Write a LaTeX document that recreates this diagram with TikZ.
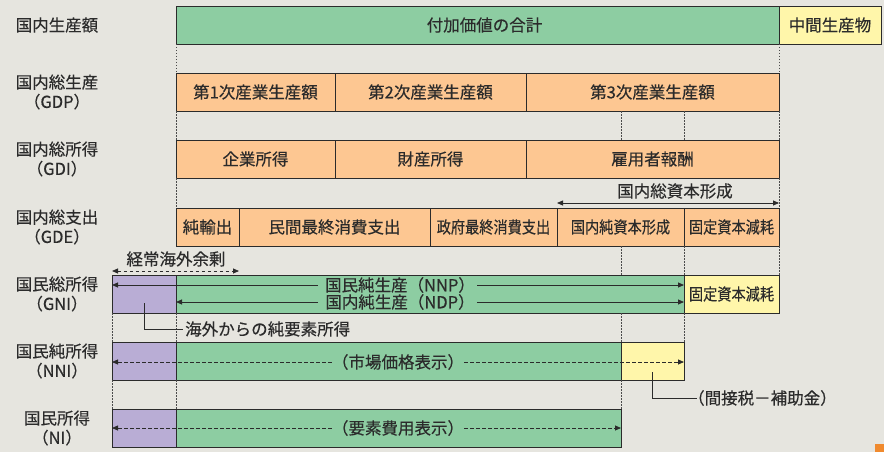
\documentclass[tikz,border=0pt]{standalone}
\usepackage{fontspec}
\setmainfont{Noto Sans CJK JP}[FakeBold=0.35]
\usepackage{graphicx}
\usetikzlibrary{arrows.meta,calc}
\definecolor{bgc}{HTML}{E6E5DF}
\definecolor{grn}{HTML}{8DCDA2}
\definecolor{org}{HTML}{FDC792}
\definecolor{ylw}{HTML}{FFF6AA}
\definecolor{prp}{HTML}{B9ADD5}
\definecolor{ink}{HTML}{2B2B2B}
\definecolor{tab}{HTML}{F08A2E}
\newcommand\bx[7]{\node[boxst,fill=#6,minimum width={(#4-#2)*1pt},minimum height={(#5-#3)*1pt},anchor=north west] (#1) at (#2,#3) {#7};}
\newcommand\cnd[1]{\scalebox{0.86}[1]{#1}}
\tikzset{
  boxst/.style={draw=ink, line width=0.9pt, inner sep=0pt, outer sep=0pt},
  lbl/.style={align=center, inner sep=0pt},
  txt/.style={inner sep=0pt},
  dotv/.style={draw=ink!85, line width=0.7pt, dash pattern=on 1.5pt off 1.5pt},
  arr/.style={draw=ink, line width=0.8pt, ->},
  arrb/.style={draw=ink, line width=0.8pt, <->},
  darr/.style={draw=ink, line width=0.8pt, ->, dash pattern=on 3.5pt off 2.5pt},
  darrb/.style={draw=ink, line width=0.8pt, <->, dash pattern=on 3.5pt off 2.5pt},
  lead/.style={draw=ink, line width=0.8pt},
}
\begin{document}
\begin{tikzpicture}[x=1pt,y=-1pt,font=\fontsize{16.5}{19.5}\selectfont,text=ink,
  >={Triangle[length=6pt,width=5pt]}]
\useasboundingbox (0,0) rectangle (884,452);
\fill[bgc] (0,0) rectangle (884,452);
\fill[tab] (875,444) rectangle (884,452);

% row labels
\node[lbl] (l1) at (57,25) {国内生産額};
\node[lbl] (l2) at (57,92) {国内総生産\\（GDP）};
\node[lbl] (l3) at (57,159) {国内総所得\\（GDI）};
\node[lbl] (l4) at (57,227) {国内総支出\\（GDE）};
\node[lbl] (l5) at (57,294) {国民総所得\\（GNI）};
\node[lbl] (l6) at (57,361) {国民純所得\\（NNI）};
\node[lbl] (l7) at (57,428) {国民所得\\（NI）};

% boxes
\bx{r1a}{176}{6}{779}{44}{grn}{\hspace*{14pt}付加価値の合計}
\bx{r1b}{779}{6}{881}{44}{ylw}{中間生産物}
\bx{gdp1}{176}{73}{335}{111}{org}{第1次産業生産額}
\bx{gdp2}{335}{73}{526}{111}{org}{第2次産業生産額}
\bx{gdp3}{526}{73}{779}{111}{org}{第3次産業生産額}
\bx{gdi1}{176}{140}{335}{178}{org}{企業所得}
\bx{gdi2}{335}{140}{526}{178}{org}{財産所得}
\bx{gdi3}{526}{140}{779}{178}{org}{雇用者報酬}
\bx{gde1}{176}{208}{239}{246}{org}{純輸出}
\bx{gde2}{239}{208}{430}{246}{org}{民間最終消費支出}
\bx{gde3}{430}{208}{557}{246}{org}{\cnd{政府最終消費支出}}
\bx{gde4}{557}{208}{684}{246}{org}{\cnd{国内純資本形成}}
\bx{gde5}{684}{208}{779}{246}{org}{\cnd{固定資本減耗}}
\bx{gni1}{112}{275}{176}{313}{prp}{}
\bx{gni2}{176}{275}{684}{313}{grn}{}
\bx{gni3}{684}{275}{779}{313}{ylw}{\cnd{固定資本減耗}}
\bx{nni1}{112}{342}{176}{380}{prp}{}
\bx{nni2}{176}{342}{621}{380}{grn}{}
\bx{nni3}{621}{342}{684}{380}{ylw}{}
\bx{ni1}{112}{409}{176}{447}{prp}{}
\bx{ni2}{176}{409}{621}{447}{grn}{}

% dotted verticals
\draw[dotv] (r1a.south west) -- (gdp1.north west);
\draw[dotv] (gdp1.south west) -- (gdi1.north west);
\draw[dotv] (gdi1.south west) -- (gde1.north west);
\draw[dotv] (r1a.south east) -- (gdp3.north east);
\draw[dotv] (gdp3.south east) -- (gdi3.north east);
\draw[dotv] (gdi3.south east) -- (gde5.north east);
\draw[dotv] (gde5.south east) -- (gni3.north east);
\draw[dotv] (nni2.east |- gdp3.south) -- (nni2.east |- gdi3.north);
\draw[dotv] (gni2.east |- gdp3.south) -- (gni2.east |- gdi3.north);
\draw[dotv] (nni2.east |- gde4.south) -- (nni2.east |- gni2.north);
\draw[dotv] (gde4.south east) -- (gni2.north east);
\draw[dotv] (nni2.east |- gni2.south) -- (nni2.north east);
\draw[dotv] (gni2.south east) -- (nni3.north east);
\draw[dotv] (nni2.south east) -- (ni2.north east);
\draw[dotv] (gni1.south west) -- (nni1.north west);
\draw[dotv] (nni1.south west) -- (ni1.north west);
\draw[dotv] (gni1.south east) -- (nni1.north east);
\draw[dotv] (nni1.south east) -- (ni1.north east);

% gross capital formation
\coordinate (k1) at ([yshift=5pt]gde4.north west);
\coordinate (k2) at ([yshift=5pt]gde5.north east);
\draw[arrb] (k1) -- (k2);
\node[txt] (gcf) at (675,191) {国内総資本形成};

% current account surplus
\coordinate (c1) at ([yshift=4pt]gni1.north west);
\coordinate (c2) at (gde1.east |- c1);
\draw[darrb] (c1) -- (c2);
\node[txt] (cas) at (176,259) {経常海外余剰};

% NNP / NDP
\node[txt] (nnp) at (400,285) {国民純生産（NNP）};
\node[txt] (ndp) at (400,302) {国内純生産（NDP）};
\draw[arr] ([xshift=-7pt]nnp.west) -- (gni1.west |- nnp);
\draw[arr] ([xshift=2pt]nnp.east) -- (gni2.east |- nnp);
\draw[arr] ([xshift=-7pt]ndp.west) -- (gni2.west |- ndp);
\draw[arr] ([xshift=2pt]ndp.east) -- (gni2.east |- ndp);

% net factor income
\node[txt,anchor=west] (nfi) at (185,329) {海外からの純要素所得};
\coordinate (n1) at ([yshift=-9pt]gni1.center);
\draw[lead] (n1) |- ([xshift=-2pt]nfi.west);

% NNI
\node[txt] (mkt) at (398,362) {（市場価格表示）};
\draw[darr] (mkt.west) -- (nni1.west |- mkt);
\draw[darr] (mkt.east) -- (nni3.east |- mkt);

% NI
\node[txt] (fct) at (398,428) {（要素費用表示）};
\draw[darr] (fct.west) -- (ni1.west |- fct);
\draw[darr] (fct.east) -- (ni2.east |- fct);

% indirect taxes
\node[txt,anchor=west] (itx) at (688,398) {（間接税－補助金）};
\coordinate (t1) at ([yshift=-11pt]nni3.center);
\draw[lead] (t1) |- ([xshift=9pt]itx.west);
\end{tikzpicture}
\end{document}
